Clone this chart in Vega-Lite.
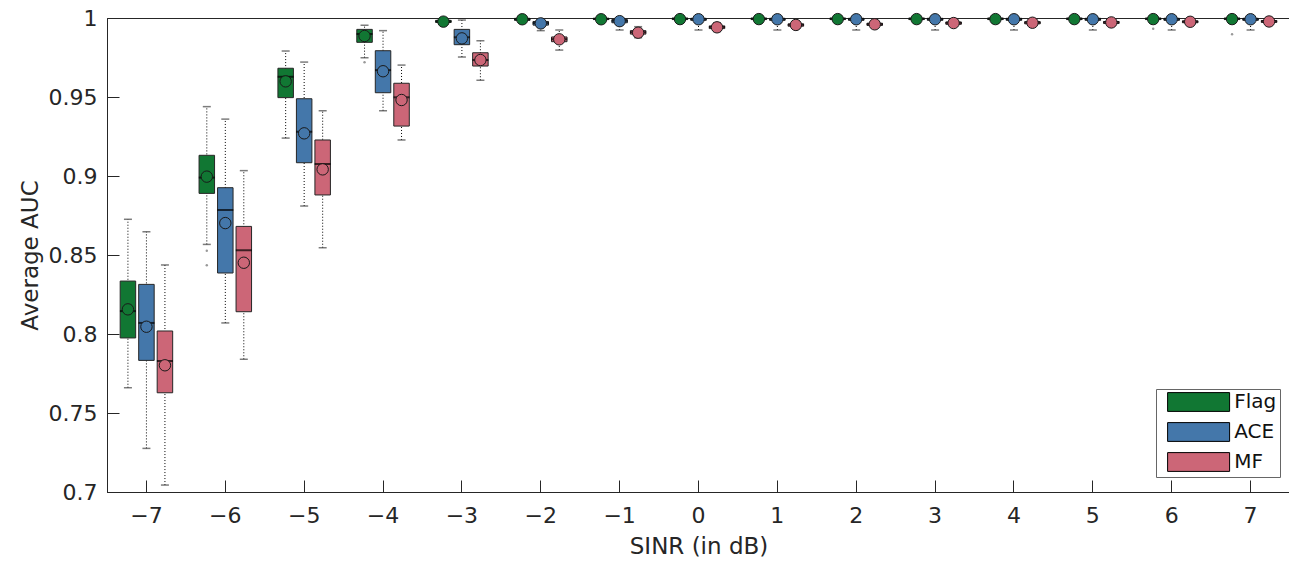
{
  "$schema": "https://vega.github.io/schema/vega-lite/v6.json",
  "width": 1183,
  "height": 474,
  "autosize": {"type": "none"},
  "padding": {"left": 107, "top": 18, "right": 0, "bottom": 69},
  "background": "white",
  "config": {
    "font": "DejaVu Sans",
    "view": {"stroke": "#262626", "strokeWidth": 1},
    "axis": {
      "grid": false,
      "domainColor": "#262626",
      "tickColor": "#262626",
      "labelColor": "#262626",
      "titleColor": "#262626",
      "labelFontSize": 22,
      "titleFontSize": 23,
      "titleFontWeight": "normal",
      "tickSize": -12,
      "tickWidth": 1,
      "domainWidth": 1
    }
  },
  "datasets": {
    "boxes": [
      {"sinr": -7, "method": "Flag", "lo": 0.766, "q1": 0.7975, "med": 0.8145, "q3": 0.8335, "hi": 0.8726, "mean": 0.8156},
      {"sinr": -7, "method": "ACE", "lo": 0.7276, "q1": 0.7833, "med": 0.807, "q3": 0.8314, "hi": 0.8647, "mean": 0.8046},
      {"sinr": -7, "method": "MF", "lo": 0.7044, "q1": 0.7628, "med": 0.7829, "q3": 0.8019, "hi": 0.8437, "mean": 0.7802},
      {"sinr": -6, "method": "Flag", "lo": 0.8567, "q1": 0.889, "med": 0.899, "q3": 0.9131, "hi": 0.9439, "mean": 0.8996},
      {"sinr": -6, "method": "ACE", "lo": 0.807, "q1": 0.8386, "med": 0.8785, "q3": 0.8926, "hi": 0.936, "mean": 0.8702},
      {"sinr": -6, "method": "MF", "lo": 0.784, "q1": 0.8141, "med": 0.853, "q3": 0.8681, "hi": 0.9034, "mean": 0.8451},
      {"sinr": -5, "method": "Flag", "lo": 0.924, "q1": 0.9496, "med": 0.9628, "q3": 0.9682, "hi": 0.9791, "mean": 0.9599},
      {"sinr": -5, "method": "ACE", "lo": 0.881, "q1": 0.9084, "med": 0.928, "q3": 0.9489, "hi": 0.9721, "mean": 0.927},
      {"sinr": -5, "method": "MF", "lo": 0.8546, "q1": 0.888, "med": 0.9076, "q3": 0.9228, "hi": 0.9413, "mean": 0.9042},
      {"sinr": -4, "method": "Flag", "lo": 0.9749, "q1": 0.9846, "med": 0.9899, "q3": 0.9928, "hi": 0.9954, "mean": 0.9886},
      {"sinr": -4, "method": "ACE", "lo": 0.9413, "q1": 0.9527, "med": 0.967, "q3": 0.9793, "hi": 0.992, "mean": 0.9663},
      {"sinr": -4, "method": "MF", "lo": 0.9228, "q1": 0.9316, "med": 0.9498, "q3": 0.9587, "hi": 0.9702, "mean": 0.9481},
      {"sinr": -3, "method": "Flag", "lo": 0.996, "q1": 0.9972, "med": 0.9978, "q3": 0.9985, "hi": 0.9998, "mean": 0.9977},
      {"sinr": -3, "method": "ACE", "lo": 0.9753, "q1": 0.9831, "med": 0.9878, "q3": 0.9928, "hi": 0.9987, "mean": 0.9871},
      {"sinr": -3, "method": "MF", "lo": 0.9606, "q1": 0.9696, "med": 0.9734, "q3": 0.978, "hi": 0.9856, "mean": 0.9734},
      {"sinr": -2, "method": "Flag", "lo": 0.9975, "q1": 0.9985, "med": 0.9993, "q3": 0.9998, "hi": 1.0, "mean": 0.9992},
      {"sinr": -2, "method": "ACE", "lo": 0.992, "q1": 0.9955, "med": 0.9968, "q3": 0.9978, "hi": 0.9995, "mean": 0.9966},
      {"sinr": -2, "method": "MF", "lo": 0.9797, "q1": 0.985, "med": 0.9866, "q3": 0.988, "hi": 0.9924, "mean": 0.9865},
      {"sinr": -1, "method": "Flag", "lo": 0.998, "q1": 0.999, "med": 0.9995, "q3": 0.9998, "hi": 1.0, "mean": 0.9992},
      {"sinr": -1, "method": "ACE", "lo": 0.9924, "q1": 0.997, "med": 0.9982, "q3": 0.999, "hi": 1.0, "mean": 0.998},
      {"sinr": -1, "method": "MF", "lo": 0.9875, "q1": 0.9898, "med": 0.991, "q3": 0.992, "hi": 0.9945, "mean": 0.9907},
      {"sinr": 0, "method": "Flag", "lo": 0.998, "q1": 0.999, "med": 0.9996, "q3": 0.9999, "hi": 1.0, "mean": 0.9993},
      {"sinr": 0, "method": "ACE", "lo": 0.9924, "q1": 0.9985, "med": 0.9994, "q3": 0.9998, "hi": 1.0, "mean": 0.9992},
      {"sinr": 0, "method": "MF", "lo": 0.9915, "q1": 0.9933, "med": 0.9943, "q3": 0.995, "hi": 0.997, "mean": 0.9941},
      {"sinr": 1, "method": "Flag", "lo": 0.998, "q1": 0.999, "med": 0.9996, "q3": 0.9999, "hi": 1.0, "mean": 0.9993},
      {"sinr": 1, "method": "ACE", "lo": 0.9924, "q1": 0.9985, "med": 0.9994, "q3": 0.9998, "hi": 1.0, "mean": 0.9992},
      {"sinr": 1, "method": "MF", "lo": 0.9935, "q1": 0.9948, "med": 0.9957, "q3": 0.9963, "hi": 0.998, "mean": 0.9956},
      {"sinr": 2, "method": "Flag", "lo": 0.998, "q1": 0.999, "med": 0.9996, "q3": 0.9999, "hi": 1.0, "mean": 0.9993},
      {"sinr": 2, "method": "ACE", "lo": 0.9924, "q1": 0.9985, "med": 0.9994, "q3": 0.9998, "hi": 1.0, "mean": 0.9992},
      {"sinr": 2, "method": "MF", "lo": 0.994, "q1": 0.9953, "med": 0.9961, "q3": 0.9967, "hi": 0.998, "mean": 0.996},
      {"sinr": 3, "method": "Flag", "lo": 0.998, "q1": 0.999, "med": 0.9996, "q3": 0.9999, "hi": 1.0, "mean": 0.9993},
      {"sinr": 3, "method": "ACE", "lo": 0.9924, "q1": 0.9985, "med": 0.9994, "q3": 0.9998, "hi": 1.0, "mean": 0.9992},
      {"sinr": 3, "method": "MF", "lo": 0.995, "q1": 0.996, "med": 0.9969, "q3": 0.9975, "hi": 0.9985, "mean": 0.9968},
      {"sinr": 4, "method": "Flag", "lo": 0.998, "q1": 0.999, "med": 0.9996, "q3": 0.9999, "hi": 1.0, "mean": 0.9993},
      {"sinr": 4, "method": "ACE", "lo": 0.9924, "q1": 0.9985, "med": 0.9994, "q3": 0.9998, "hi": 1.0, "mean": 0.9992},
      {"sinr": 4, "method": "MF", "lo": 0.995, "q1": 0.9963, "med": 0.9971, "q3": 0.9977, "hi": 0.9988, "mean": 0.997},
      {"sinr": 5, "method": "Flag", "lo": 0.998, "q1": 0.999, "med": 0.9996, "q3": 0.9999, "hi": 1.0, "mean": 0.9993},
      {"sinr": 5, "method": "ACE", "lo": 0.9924, "q1": 0.9985, "med": 0.9994, "q3": 0.9998, "hi": 1.0, "mean": 0.9992},
      {"sinr": 5, "method": "MF", "lo": 0.9955, "q1": 0.9965, "med": 0.9973, "q3": 0.9978, "hi": 0.999, "mean": 0.9972},
      {"sinr": 6, "method": "Flag", "lo": 0.998, "q1": 0.999, "med": 0.9996, "q3": 0.9999, "hi": 1.0, "mean": 0.9993},
      {"sinr": 6, "method": "ACE", "lo": 0.9924, "q1": 0.9985, "med": 0.9994, "q3": 0.9998, "hi": 1.0, "mean": 0.9992},
      {"sinr": 6, "method": "MF", "lo": 0.996, "q1": 0.997, "med": 0.9977, "q3": 0.9982, "hi": 0.999, "mean": 0.9976},
      {"sinr": 7, "method": "Flag", "lo": 0.998, "q1": 0.999, "med": 0.9996, "q3": 0.9999, "hi": 1.0, "mean": 0.9993},
      {"sinr": 7, "method": "ACE", "lo": 0.9924, "q1": 0.9985, "med": 0.9994, "q3": 0.9998, "hi": 1.0, "mean": 0.9992},
      {"sinr": 7, "method": "MF", "lo": 0.996, "q1": 0.9972, "med": 0.9979, "q3": 0.9984, "hi": 0.9992, "mean": 0.9978}
    ],
    "outliers": [
      {"sinr": -6, "method": "Flag", "value": 0.8527},
      {"sinr": -6, "method": "Flag", "value": 0.8435},
      {"sinr": -4, "method": "Flag", "value": 0.972},
      {"sinr": 6, "method": "Flag", "value": 0.9932},
      {"sinr": 7, "method": "Flag", "value": 0.9897}
    ]
  },
  "encoding": {
    "x": {
      "field": "sinr",
      "type": "ordinal",
      "title": "SINR (in dB)",
      "scale": {"domain": [-7, -6, -5, -4, -3, -2, -1, 0, 1, 2, 3, 4, 5, 6, 7], "paddingInner": 0, "paddingOuter": 0},
      "axis": {"labelAngle": 0, "labelPadding": 25, "titlePadding": 9, "labelExpr": "replace(datum.label, '-', '−')"}
    },
    "xOffset": {
      "field": "method",
      "type": "nominal",
      "scale": {"domain": ["Flag", "ACE", "MF"], "paddingInner": 0.162, "paddingOuter": 0.7125}
    }
  },
  "layer": [
    {
      "data": {"name": "boxes"},
      "mark": {"type": "rule", "color": "black", "strokeWidth": 1, "strokeDash": [1, 2]},
      "encoding": {
        "y": {
          "field": "lo",
          "type": "quantitative",
          "title": "Average AUC",
          "scale": {"domain": [0.7, 1], "zero": false, "nice": false},
          "axis": {"values": [0.7, 0.75, 0.8, 0.85, 0.9, 0.95, 1], "format": "~g", "labelPadding": 22, "titlePadding": 6}
        },
        "y2": {"field": "hi"}
      }
    },
    {
      "data": {"name": "boxes"},
      "mark": {"type": "tick", "color": "#444444", "size": 8, "thickness": 1.5},
      "encoding": {"y": {"field": "hi", "type": "quantitative"}}
    },
    {
      "data": {"name": "boxes"},
      "mark": {"type": "tick", "color": "#444444", "size": 8, "thickness": 1.5},
      "encoding": {"y": {"field": "lo", "type": "quantitative"}}
    },
    {
      "data": {"name": "boxes"},
      "mark": {"type": "bar", "stroke": "#262626", "strokeWidth": 1, "opacity": 1},
      "encoding": {
        "y": {"field": "q1", "type": "quantitative"},
        "y2": {"field": "q3"},
        "color": {
          "field": "method",
          "type": "nominal",
          "scale": {"domain": ["Flag", "ACE", "MF"], "range": ["#117733", "#4477AA", "#CC6677"]},
          "legend": {
            "orient": "none",
            "legendX": 1049,
            "legendY": 371,
            "title": null,
            "padding": 3,
            "strokeColor": "#666666",
            "fillColor": "white",
            "symbolType": "M-3.3,-1H3.3V1H-3.3Z",
            "symbolSize": 353,
            "symbolOffset": 29.6,
            "symbolStrokeColor": "black",
            "symbolStrokeWidth": 1,
            "symbolOpacity": 1,
            "labelFontSize": 20,
            "labelColor": "#111111",
            "labelOffset": 25.6,
            "rowPadding": 6
          }
        }
      }
    },
    {
      "data": {"name": "boxes"},
      "mark": {"type": "tick", "color": "black", "size": 16, "thickness": 2},
      "encoding": {"y": {"field": "med", "type": "quantitative"}}
    },
    {
      "data": {"name": "boxes"},
      "mark": {"type": "circle", "size": 130, "stroke": "#1a1a1a", "strokeWidth": 1, "opacity": 1},
      "encoding": {
        "y": {"field": "mean", "type": "quantitative"},
        "color": {"field": "method", "type": "nominal", "legend": null}
      }
    },
    {
      "data": {"name": "outliers"},
      "mark": {"type": "circle", "size": 6, "color": "#999999", "opacity": 1},
      "encoding": {"y": {"field": "value", "type": "quantitative"}}
    }
  ]
}
